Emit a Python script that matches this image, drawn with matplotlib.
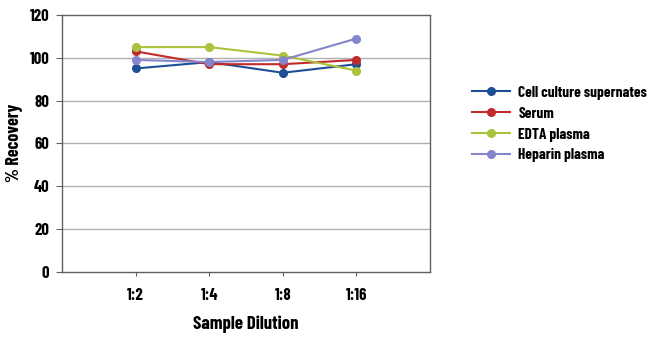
import matplotlib
matplotlib.use("Agg")
import matplotlib.pyplot as plt

plt.rcParams['font.family'] = ["Barlow Condensed", "DejaVu Sans"]
W = 700

categories = ["1:2", "1:4", "1:8", "1:16"]
series_names = ["Cell culture supernates", "Serum", "EDTA plasma", "Heparin plasma"]
cell_culture = [95, 98, 93, 97]
serum = [103, 97, 97, 99]
edta = [105, 105, 101, 94]
heparin = [99, 98, 99, 109]
colors = ["#1d4f96", "#c22a2a", "#a9c43c", "#8585cc"]
yticks = [0, 20, 40, 60, 80, 100, 120]

fig = plt.figure(figsize=(6.5, 3.38), dpi=100)
ax = fig.add_axes([62/650, 1-271.7/338, 368/650, 256.7/338])
xs = list(range(1, len(categories)+1))
for name, vals, c in zip(series_names, [cell_culture, serum, edta, heparin], colors):
    ax.plot(xs, vals, color=c, marker='o', markersize=5.5, linewidth=1.5, label=name)

ax.set_xlim(0, 5)
ax.set_ylim(0, 120)
ax.set_yticks(yticks)
ax.set_yticklabels([str(v) for v in yticks], fontsize=12, fontweight=W)
ax.set_xticks(xs)
ax.set_xticklabels(categories, fontsize=12, fontweight=W)
for y in yticks[1:-1]:
    ax.axhline(y, color="#b0b0b0", linewidth=1.0, zorder=0)
for s in ax.spines.values():
    s.set_color("#606060")
    s.set_linewidth(1.0)
ax.tick_params(axis='y', length=4, color="#606060", pad=5)
ax.tick_params(axis='x', length=3, color="#606060", pad=9)
ax.set_ylabel("% Recovery", fontsize=13, fontweight=W, labelpad=5)
ax.set_xlabel("Sample Dilution", fontsize=13.5, fontweight=W, labelpad=9)

leg = fig.legend(loc='upper left', bbox_to_anchor=(458/650, 1-72/338), frameon=False,
                 prop={'weight': W, 'size': 11}, handlelength=2.5, labelspacing=0.45,
                 handletextpad=0.55)
fig.savefig("out.png", dpi=100)
